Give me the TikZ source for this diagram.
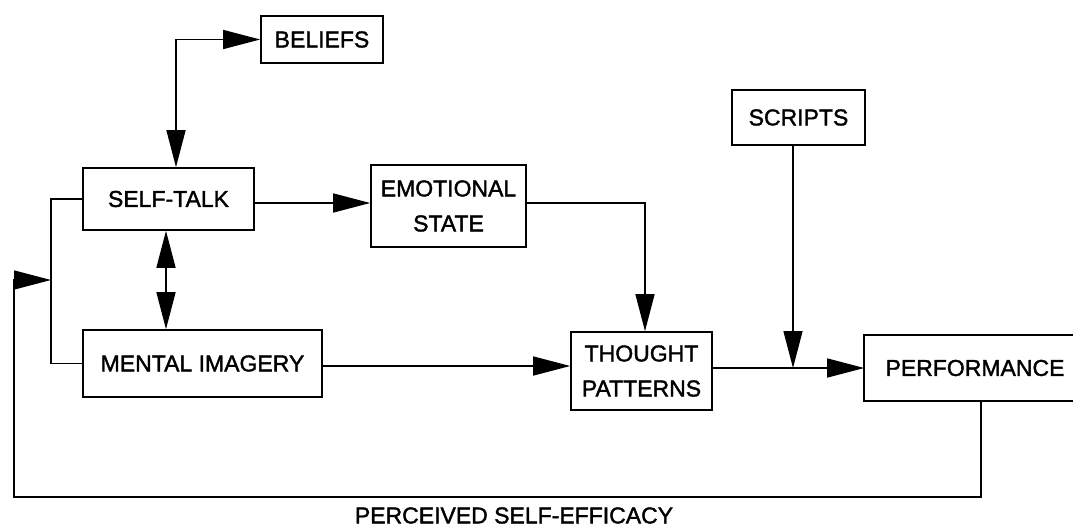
\documentclass[tikz,border=0pt]{standalone}
\usepackage{fontspec}
\setmainfont{Liberation Sans}[BoldFont={Liberation Sans}, BoldFeatures={FakeBold=1.6}]
\usetikzlibrary{arrows.meta}
\tikzset{
  box/.style={draw, line width=1.6pt, inner sep=0pt, align=center,
    font=\fontsize{23}{35}\selectfont\bfseries},
  conn/.style={line width=1.4pt},
  arr/.style={conn, -{Triangle[length=37pt,width=19pt]}},
  darr/.style={conn, {Triangle[length=37pt,width=19pt]}-{Triangle[length=37pt,width=19pt]}},
  lbl/.style={inner sep=0pt, font=\fontsize{23}{25}\selectfont\bfseries}
}
\begin{document}
\begin{tikzpicture}[x=1pt,y=-1pt]
\useasboundingbox (0,0) rectangle (1073,527);
% nodes
\node[box, minimum width=122pt, minimum height=47pt] (beliefs) at (322,39.5) {BELIEFS};
\node[box, minimum width=171pt, minimum height=62pt] (selftalk) at (168.5,199) {SELF-TALK};
\node[box, minimum width=155pt, minimum height=82pt] (emot) at (448.5,206) {EMOTIONAL\\STATE};
\node[box, minimum width=239pt, minimum height=67pt] (mental) at (202.5,363.5) {MENTAL IMAGERY};
\node[box, minimum width=141pt, minimum height=78pt] (thought) at (641.5,371) {THOUGHT\\PATTERNS};
\node[box, minimum width=133pt, minimum height=55pt] (scripts) at (798.5,117.5) {SCRIPTS};
\node[box, draw=none, minimum width=220pt, minimum height=64pt] (perf) at (975,368) {PERFORMANCE};
\coordinate (rx) at (1073,0);
\draw[line width=1.6pt] (perf.north -| rx) -- (perf.north west) -- (perf.south west) -- (perf.south -| rx);
\node[lbl] (eff) at (514,515.5) {PERCEIVED SELF-EFFICACY};
% helper coordinates
\coordinate (bx) at (176,0);
\coordinate (dx) at (166,0);
\coordinate (tx) at (645,0);
\coordinate (jx) at (793,0);
\coordinate (fx) at (981,0);
\coordinate (lx) at (51,0);
\coordinate (l1) at (0,203);
\coordinate (l2) at (0,366);
\coordinate (l3) at (0,368);
\coordinate (fbL) at (14,497);
\coordinate (fbT) at (14,280);
\coordinate (fb) at (51,280);
% connectors
\draw[darr] (beliefs.west) -| (selftalk.north -| bx);
\draw[arr] (selftalk.east |- l1) -- (emot.west |- l1);
\draw[darr] (selftalk.south -| dx) -- (mental.north -| dx);
\draw[arr] (emot.east |- l1) -| (thought.north -| tx);
\draw[arr] (mental.east |- l2) -- (thought.west |- l2);
\draw[arr] (thought.east |- l3) -- (perf.west |- l3);
\draw[arr] (scripts.south -| jx) -- (jx |- l3);
\draw[conn] (selftalk.west) -| (lx |- mental.west) -- (mental.west);
\draw[arr] (perf.south -| fx) |- (fbL) -- (fbT) -- (fb);
\end{tikzpicture}
\end{document}
